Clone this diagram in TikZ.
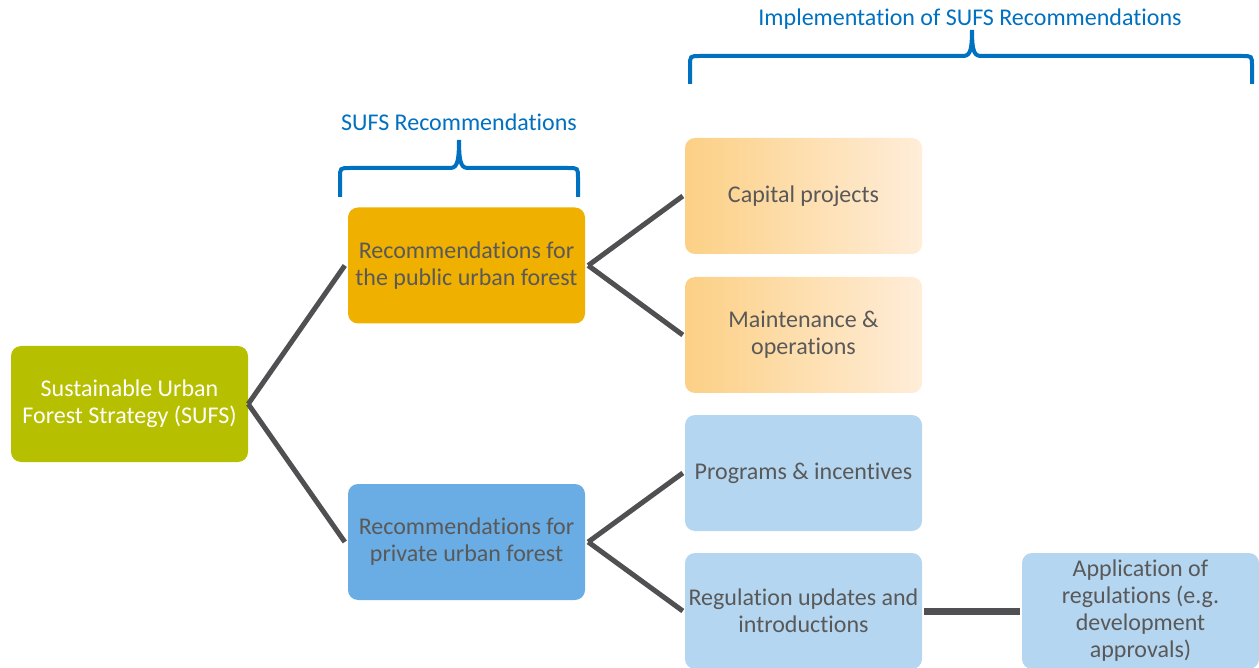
\documentclass[tikz,border=0pt]{standalone}
\usepackage{fontspec}
\setmainfont{Carlito}[Ligatures={NoCommon}]
\definecolor{sufsgreen}{RGB}{183,192,0}
\definecolor{puborange}{RGB}{240,176,0}
\definecolor{privblue}{RGB}{106,173,228}
\definecolor{lightblue}{RGB}{180,214,240}
\definecolor{gradleft}{RGB}{252,208,133}
\definecolor{gradright}{RGB}{255,237,217}
\definecolor{txtgray}{RGB}{89,89,89}
\definecolor{linegray}{RGB}{80,80,82}
\definecolor{braceblue}{RGB}{0,112,192}
\tikzset{
  box/.style={rounded corners=10pt, minimum width=237pt, minimum height=116pt, inner sep=2pt,
    align=center, text=txtgray, font=\fontsize{24}{27}\selectfont},
  conn/.style={draw=linegray, line width=5pt},
  bracepath/.style={draw=braceblue, line width=4pt, line cap=butt},
  bracelabel/.style={text=braceblue, font=\fontsize{24}{27}\selectfont, inner sep=0pt}
}
\begin{document}
\begin{tikzpicture}[x=1pt,y=-1pt]
\useasboundingbox (0,0) rectangle (1259,668);
\clip (0,0) rectangle (1259,668);
% nodes
\node[box, fill=sufsgreen, text=white] (sufs) at (129.5,404) {Sustainable Urban\\Forest Strategy (SUFS)};
\node[box, fill=puborange] (pub) at (466.5,265.5) {Recommendations for\\the public urban forest};
\node[box, fill=privblue] (priv) at (466.5,542) {Recommendations for\\private urban forest};
\node[box, left color=gradleft, right color=gradright] (cap) at (803.5,196) {Capital projects};
\node[box, left color=gradleft, right color=gradright] (maint) at (803.5,335) {Maintenance \&\\operations};
\node[box, fill=lightblue] (prog) at (803.5,473) {Programs \& incentives};
\node[box, fill=lightblue] (reg) at (803.5,611) {Regulation updates and\\introductions};
\node[box, fill=lightblue] (app) at (1140.5,611) {Application of\\regulations (e.g.\\development\\approvals)};
% connectors
\draw[conn] (sufs.east) -- ([xshift=-3pt]pub.west);
\draw[conn] (sufs.east) -- ([xshift=-3pt]priv.west);
\draw[conn] ([xshift=3pt]pub.east) -- ([xshift=-2pt]cap.west);
\draw[conn] ([xshift=3pt]pub.east) -- ([xshift=-2pt]maint.west);
\draw[conn] ([xshift=3pt]priv.east) -- ([xshift=-2pt]prog.west);
\draw[conn] ([xshift=3pt]priv.east) -- ([xshift=-2pt]reg.west);
\draw[conn, line width=7pt] ([xshift=2pt]reg.east) -- ([xshift=-2pt]app.west);
% braces
\coordinate (b1l) at (340,197);
\coordinate (b1r) at (578,197);
\coordinate (b1t) at (459,140);
\draw[bracepath] (b1l) -- (340,178) .. controls (340,168) .. (350,168) -- (449,168)
  .. controls (456,168) and (459,166) .. (b1t)
  .. controls (459,166) and (462,168) .. (469,168) -- (568,168)
  .. controls (578,168) .. (578,178) -- (b1r);
\node[bracelabel] (l1) at (459,122) {SUFS Recommendations};
\coordinate (b2l) at (690,84);
\coordinate (b2r) at (1252,84);
\coordinate (b2t) at (972,30);
\draw[bracepath] (b2l) -- (690,66) .. controls (690,56) .. (700,56) -- (962,56)
  .. controls (969,56) and (972,54) .. (b2t)
  .. controls (972,54) and (975,56) .. (982,56) -- (1242,56)
  .. controls (1252,56) .. (1252,66) -- (b2r);
\node[bracelabel] (l2) at (970,19) {Implementation of SUFS Recommendations};
\end{tikzpicture}
\end{document}
